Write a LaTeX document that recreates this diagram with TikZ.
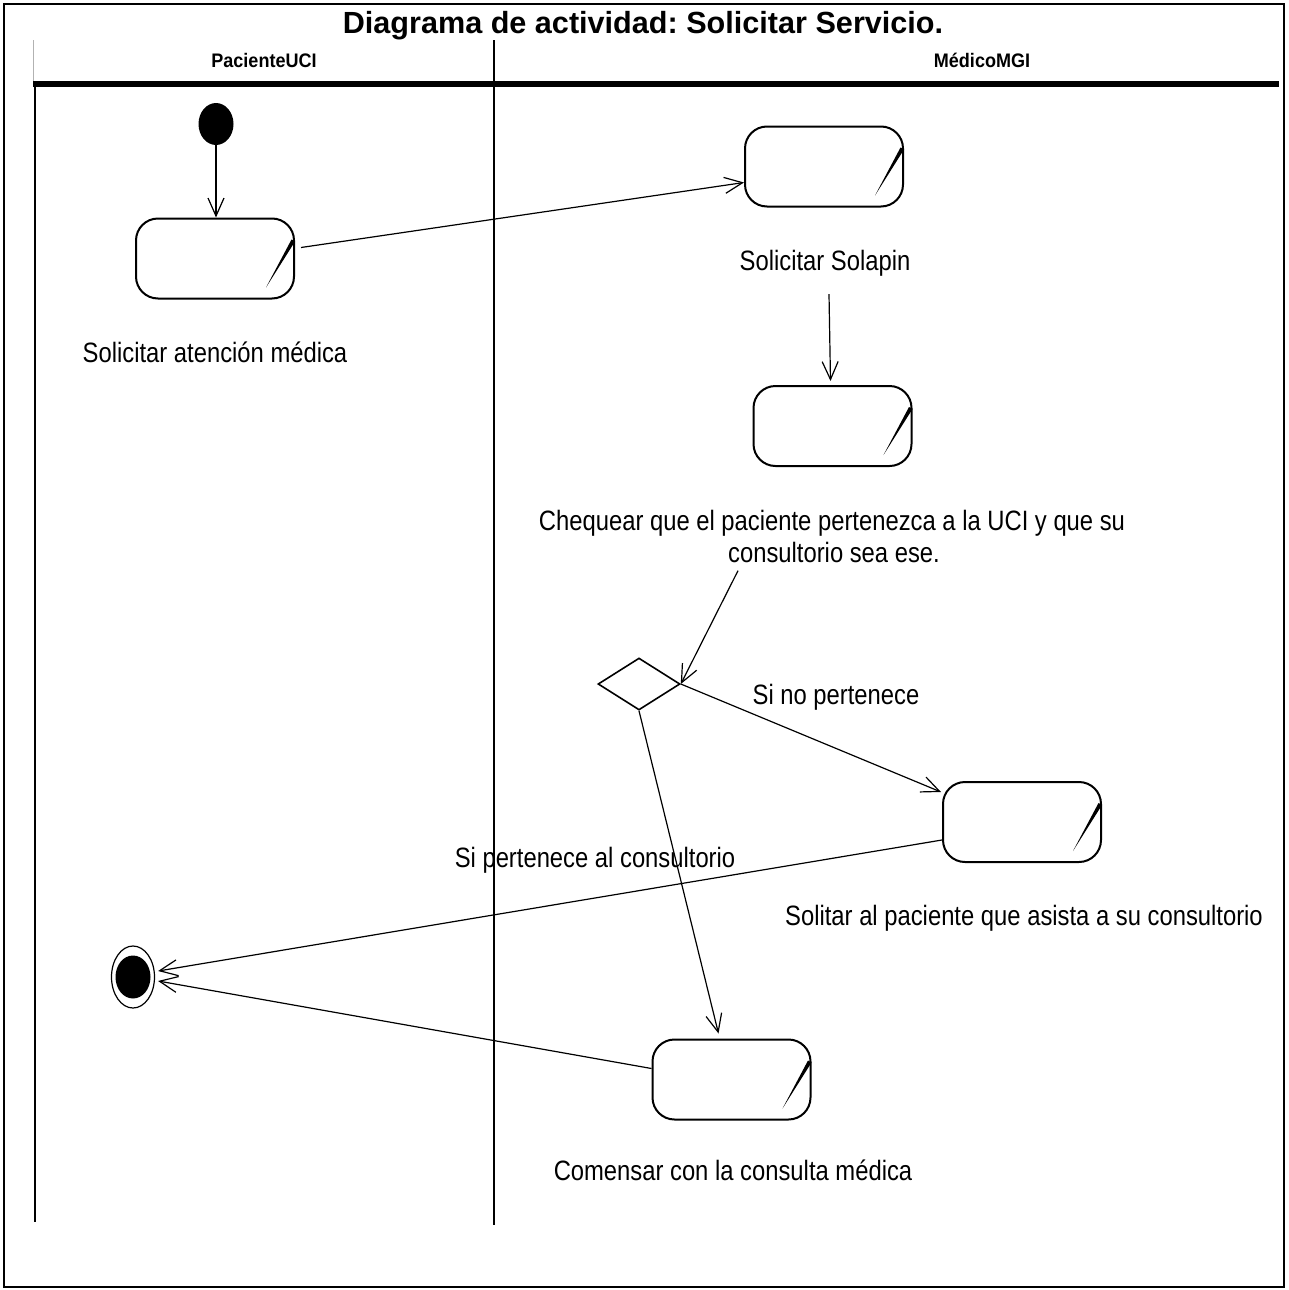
\documentclass[tikz,border=0pt]{standalone}
\usepackage{fontspec}
\setmainfont{Liberation Sans}
\newfontfamily\narrowfont[FakeStretch=0.85]{Liberation Sans}
\newfontfamily\headfont[FakeStretch=0.92]{Liberation Sans}
\usetikzlibrary{arrows.meta,shapes.geometric,calc}
\frenchspacing

\tikzset{
  activity/.style={draw, line width=1pt, rounded corners=11pt,
    minimum width=79pt, minimum height=40pt, inner sep=0pt},
  flow/.style={line width=0.6pt, -{Straight Barb[length=9pt,width=8pt]}},
  lbl/.style={font=\narrowfont\fontsize{14}{16}\selectfont, inner sep=0pt, anchor=base},
  lanehead/.style={font=\headfont\bfseries\fontsize{9.8}{11}\selectfont, inner sep=0pt, anchor=base},
  decision/.style={diamond, draw, line width=0.8pt, minimum width=41pt,
    minimum height=26pt, inner sep=0pt},
}

% activity icon: tapered slash at the right side of an activity box
\newcommand\actslash[1]{%
  \fill ($(#1.north east)+(-3.5,22)$) -- ($(#1.north east)+(0,24)$)
        -- ($(#1.south east)+(-29,-12)$) -- cycle;}

\begin{document}
\begin{tikzpicture}[x=0.5pt,y=-0.5pt]
  \useasboundingbox (0,0) rectangle (1289,1290);

  % outer frame and title
  \draw[line width=0.8pt] (4,4) rectangle (1284,1287);
  \node[font=\bfseries\fontsize{15.3}{18}\selectfont, inner sep=0pt, anchor=base]
    (title) at (643,33) {Diagrama de actividad: Solicitar Servicio.};

  % swimlanes
  \node[lanehead] (lane1) at (264,67) {PacienteUCI};
  \node[lanehead] (lane2) at (982,67) {MédicoMGI};
  \draw[gray!60, line width=0.5pt] (33,40) -- (33,84);
  \draw[line width=2.6pt] (33,84) -- (1279,84);
  \draw[line width=1pt] (35,84) -- (35,1222);
  \draw[line width=0.8pt] (494,40) -- (494,1225);

  % initial and final nodes
  \node[ellipse, fill, minimum width=17.5pt, minimum height=21pt, inner sep=0pt]
    (init) at (216,124) {};
  \node[ellipse, draw, line width=0.6pt, minimum width=21.5pt, minimum height=31pt,
    inner sep=0pt] (fin) at (133,977) {};
  \node[ellipse, fill, minimum width=17.5pt, minimum height=21.5pt, inner sep=0pt]
    (finc) at (fin) {};

  % activities
  \node[activity] (a1) at (215,258.5) {};
  \node[activity] (a2) at (824,166.5) {};
  \node[activity] (a3) at (832.5,426) {};
  \node[activity] (a4) at (1022,822) {};
  \node[activity] (a5) at (731.5,1079.5) {};
  \actslash{a1}\actslash{a2}\actslash{a3}\actslash{a4}\actslash{a5}

  \node[decision] (dec) at (639,684) {};

  % activity names
  \node[lbl] (l1) at (215,362) {Solicitar atención médica};
  \node[lbl] (l2) at (825,270) {Solicitar Solapin};
  \node[lbl] (l3a) at (832,530) {Chequear que el paciente pertenezca a la UCI y que su};
  \node[lbl] (l3b) at (834,562) {consultorio sea ese.};
  \node[lbl] (l4) at (1024,925) {Solitar al paciente que asista a su consultorio};
  \node[lbl] (l5) at (733,1180) {Comensar con la consulta médica};

  % guards
  \node[lbl] (g1) at (836,704) {Si no pertenece};
  \node[lbl] (g2) at (595,867) {Si pertenece al consultorio};

  % transitions
  \draw[flow] (init.south) -- (init.south |- a1.north);
  \draw[flow] ($(a1.east)+(6,-11)$) -- ($(a2.west)+(0,16)$);
  \draw[flow] ($(l2.south)+(4,18)$) -- ($(a3.north)+(-2,-4)$);
  \draw[flow] ($(l3b.south)+(-96,8)$) -- (dec.east);
  \draw[flow] (dec.east) -- ($(a4.west)+(-1,-30)$);
  \draw[flow] (dec.south) -- ($(a5.north)+(-13,-5)$);
  \draw[flow] ($(a4.west)+(0,18)$) -- ($(fin.east)+(3,-6)$);
  \draw[flow] ($(a5.west)+(0,-11)$) -- ($(fin.east)+(3,4)$);
\end{tikzpicture}
\end{document}
